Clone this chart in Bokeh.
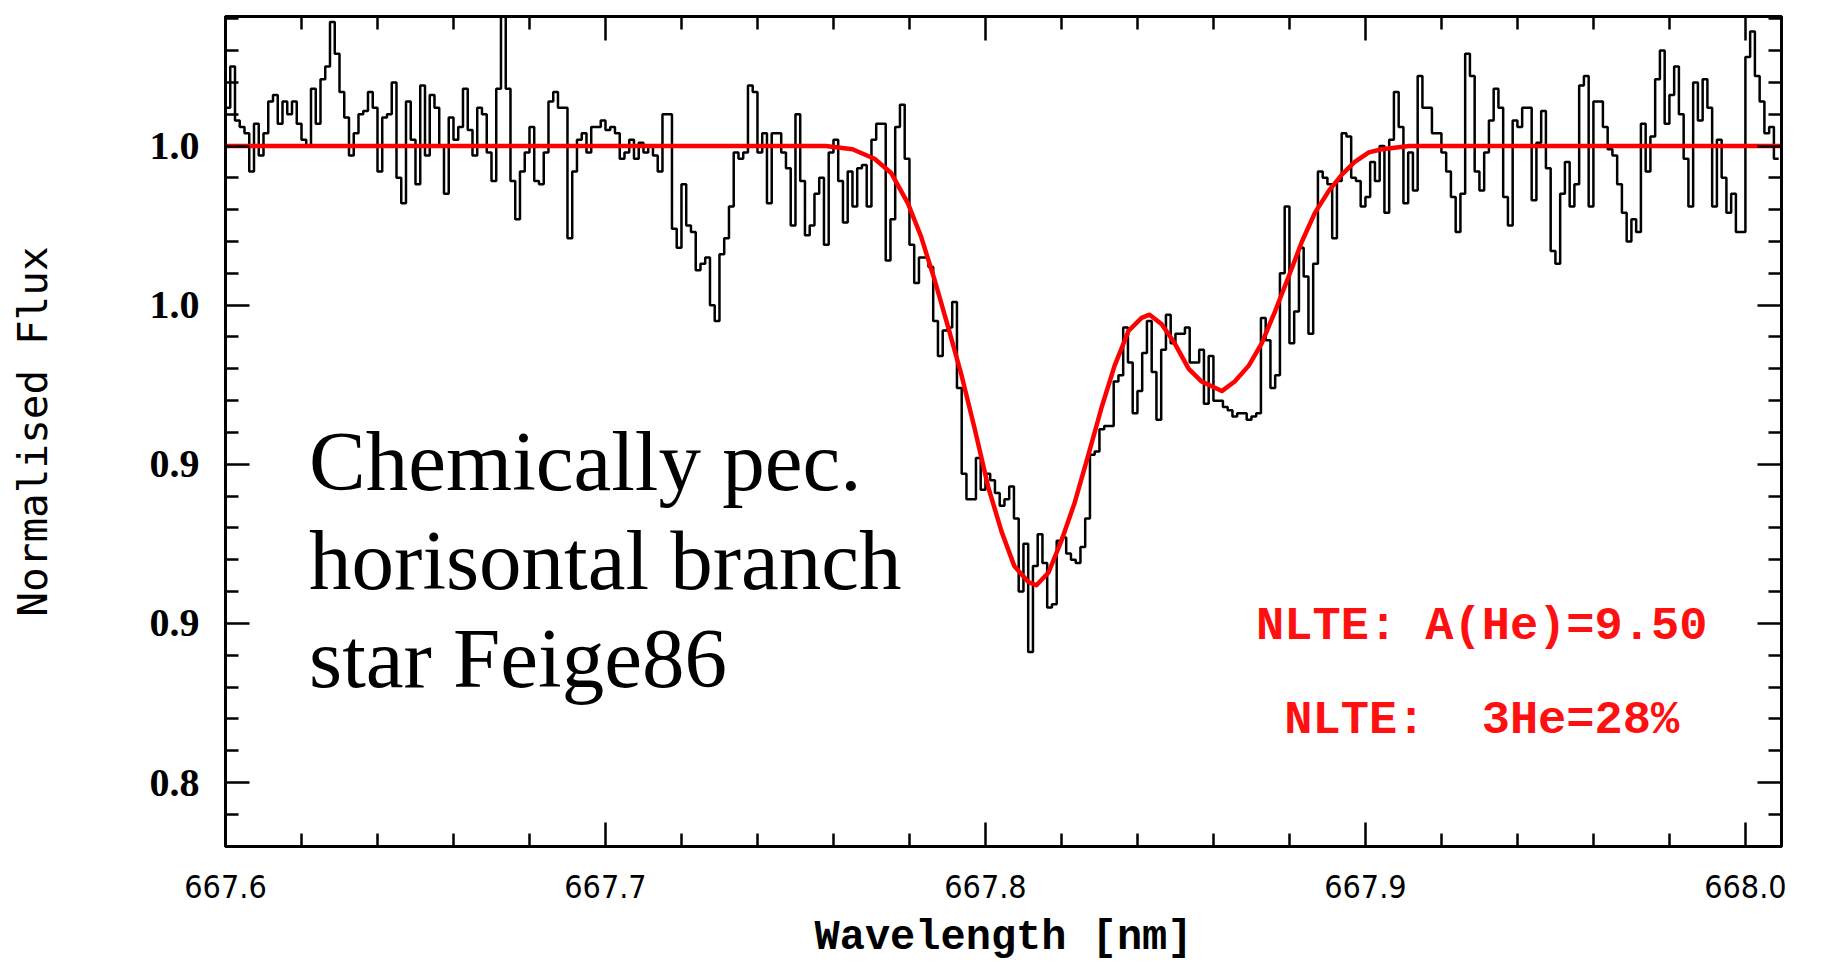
from bokeh.plotting import figure
from bokeh.models import LinearAxis, FixedTicker, Range1d, Label, ColumnDataSource
from bokeh.embed import file_html
from bokeh.resources import INLINE

# ---------------- data ----------------
wavelength = [
    667.600, 667.60125, 667.6025, 667.60375, 667.605, 667.60625, 667.6075, 667.60875,
    667.610, 667.61125, 667.6125, 667.61375, 667.615, 667.61625, 667.6175, 667.61875,
    667.620, 667.62125, 667.6225, 667.62375, 667.625, 667.62625, 667.6275, 667.62875,
    667.630, 667.63125, 667.6325, 667.63375, 667.635, 667.63625, 667.6375, 667.63875,
    667.640, 667.64125, 667.6425, 667.64375, 667.645, 667.64625, 667.6475, 667.64875,
    667.650, 667.65125, 667.6525, 667.65375, 667.655, 667.65625, 667.6575, 667.65875,
    667.660, 667.66125, 667.6625, 667.66375, 667.665, 667.66625, 667.6675, 667.66875,
    667.670, 667.67125, 667.6725, 667.67375, 667.675, 667.67625, 667.6775, 667.67875,
    667.680, 667.68125, 667.6825, 667.68375, 667.685, 667.68625, 667.6875, 667.68875,
    667.690, 667.69125, 667.6925, 667.69375, 667.695, 667.69625, 667.6975, 667.69875,
    667.700, 667.70125, 667.7025, 667.70375, 667.705, 667.70625, 667.7075, 667.70875,
    667.710, 667.71125, 667.7125, 667.71375, 667.715, 667.71625, 667.7175, 667.71875,
    667.720, 667.72125, 667.7225, 667.72375, 667.725, 667.72625, 667.7275, 667.72875,
    667.730, 667.73125, 667.7325, 667.73375, 667.735, 667.73625, 667.7375, 667.73875,
    667.740, 667.74125, 667.7425, 667.74375, 667.745, 667.74625, 667.7475, 667.74875,
    667.750, 667.75125, 667.7525, 667.75375, 667.755, 667.75625, 667.7575, 667.75875,
    667.760, 667.76125, 667.7625, 667.76375, 667.765, 667.76625, 667.7675, 667.76875,
    667.770, 667.77125, 667.7725, 667.77375, 667.775, 667.77625, 667.7775, 667.77875,
    667.780, 667.78125, 667.7825, 667.78375, 667.785, 667.78625, 667.7875, 667.78875,
    667.790, 667.79125, 667.7925, 667.79375, 667.795, 667.79625, 667.7975, 667.79875,
    667.800, 667.80125, 667.8025, 667.80375, 667.805, 667.80625, 667.8075, 667.80875,
    667.810, 667.81125, 667.8125, 667.81375, 667.815, 667.81625, 667.8175, 667.81875,
    667.820, 667.82125, 667.8225, 667.82375, 667.825, 667.82625, 667.8275, 667.82875,
    667.830, 667.83125, 667.8325, 667.83375, 667.835, 667.83625, 667.8375, 667.83875,
    667.840, 667.84125, 667.8425, 667.84375, 667.845, 667.84625, 667.8475, 667.84875,
    667.850, 667.85125, 667.8525, 667.85375, 667.855, 667.85625, 667.8575, 667.85875,
    667.860, 667.86125, 667.8625, 667.86375, 667.865, 667.86625, 667.8675, 667.86875,
    667.870, 667.87125, 667.8725, 667.87375, 667.875, 667.87625, 667.8775, 667.87875,
    667.880, 667.88125, 667.8825, 667.88375, 667.885, 667.88625, 667.8875, 667.88875,
    667.890, 667.89125, 667.8925, 667.89375, 667.895, 667.89625, 667.8975, 667.89875,
    667.900, 667.90125, 667.9025, 667.90375, 667.905, 667.90625, 667.9075, 667.90875,
    667.910, 667.91125, 667.9125, 667.91375, 667.915, 667.91625, 667.9175, 667.91875,
    667.920, 667.92125, 667.9225, 667.92375, 667.925, 667.92625, 667.9275, 667.92875,
    667.930, 667.93125, 667.9325, 667.93375, 667.935, 667.93625, 667.9375, 667.93875,
    667.940, 667.94125, 667.9425, 667.94375, 667.945, 667.94625, 667.9475, 667.94875,
    667.950, 667.95125, 667.9525, 667.95375, 667.955, 667.95625, 667.9575, 667.95875,
    667.960, 667.96125, 667.9625, 667.96375, 667.965, 667.96625, 667.9675, 667.96875,
    667.970, 667.97125, 667.9725, 667.97375, 667.975, 667.97625, 667.9775, 667.97875,
    667.980, 667.98125, 667.9825, 667.98375, 667.985, 667.98625, 667.9875, 667.98875,
    667.990, 667.99125, 667.9925, 667.99375, 667.995, 667.99625, 667.9975, 667.99875,
    668.000, 668.00125, 668.0025, 668.00375, 668.005, 668.00625, 668.0075, 668.00875,
]

flux = [
    1.012, 1.025, 1.008, 1.006, 1.004, 0.992, 1.007, 0.997,
    1.004, 1.014, 1.016, 1.007, 1.014, 1.010, 1.014, 1.007,
    1.002, 1.000, 1.018, 1.007, 1.021, 1.025, 1.039, 1.029,
    1.017, 1.009, 0.997, 1.004, 1.010, 1.011, 1.017, 1.012,
    0.992, 1.009, 1.010, 1.020, 0.990, 0.982, 1.014, 1.002,
    0.988, 1.019, 0.997, 1.016, 1.012, 1.000, 0.985, 1.009,
    1.002, 1.006, 1.018, 1.005, 0.997, 1.012, 1.010, 0.998,
    0.989, 1.018, 1.041, 1.018, 0.989, 0.977, 0.992, 0.998,
    1.006, 0.989, 0.988, 0.998, 1.014, 1.017, 1.012, 1.012,
    0.971, 0.992, 1.002, 1.004, 0.998, 1.006, 1.006, 1.008,
    1.005, 1.006, 1.004, 0.996, 0.998, 1.002, 0.996, 1.001,
    0.998, 1.000, 0.997, 0.992, 1.010, 1.010, 0.974, 0.968,
    0.988, 0.975, 0.973, 0.961, 0.963, 0.965, 0.950, 0.945,
    0.966, 0.971, 0.981, 0.998, 0.996, 0.998, 1.019, 1.017,
    0.998, 1.004, 0.982, 1.004, 1.004, 0.998, 0.993, 0.975,
    1.010, 0.989, 0.972, 0.975, 0.985, 0.990, 0.969, 0.998,
    1.002, 0.989, 0.976, 0.992, 0.981, 0.993, 0.994, 0.981,
    1.002, 1.007, 1.007, 0.964, 0.977, 1.006, 1.013, 0.996,
    0.969, 0.957, 0.965, 0.965, 0.962, 0.945, 0.934, 0.942,
    0.943, 0.951, 0.924, 0.897, 0.889, 0.889, 0.902, 0.892,
    0.897, 0.895, 0.891, 0.887, 0.889, 0.893, 0.883, 0.860,
    0.875, 0.841, 0.868, 0.878, 0.869, 0.855, 0.856, 0.876,
    0.877, 0.872, 0.870, 0.869, 0.874, 0.883, 0.903, 0.904,
    0.911, 0.912, 0.912, 0.926, 0.928, 0.943, 0.932, 0.916,
    0.923, 0.935, 0.945, 0.929, 0.914, 0.936, 0.947, 0.938,
    0.941, 0.941, 0.943, 0.932, 0.932, 0.936, 0.919, 0.934,
    0.920, 0.920, 0.918, 0.917, 0.915, 0.916, 0.916, 0.914,
    0.915, 0.916, 0.946, 0.939, 0.924, 0.928, 0.960, 0.981,
    0.938, 0.948, 0.968, 0.959, 0.941, 0.963, 0.992, 0.990,
    0.988, 0.971, 0.989, 1.004, 1.003, 0.990, 0.989, 0.981,
    0.984, 0.995, 0.989, 1.000, 0.979, 1.002, 1.017, 1.006,
    0.982, 0.998, 0.986, 1.022, 1.012, 1.012, 1.004, 1.004,
    0.998, 0.992, 0.984, 0.973, 0.985, 1.029, 1.022, 0.992,
    0.986, 0.998, 1.008, 1.018, 1.012, 0.984, 0.975, 1.008,
    1.006, 1.012, 1.012, 0.983, 1.001, 1.011, 0.993, 0.967,
    0.963, 0.985, 0.995, 0.981, 0.988, 1.019, 1.022, 0.981,
    1.014, 1.014, 1.006, 0.999, 0.997, 0.988, 0.979, 0.970,
    0.977, 0.973, 1.007, 0.992, 1.003, 1.021, 1.030, 1.007,
    1.016, 1.025, 1.010, 0.996, 0.981, 1.020, 1.008, 1.021,
    1.012, 0.981, 1.002, 0.990, 0.979, 0.985, 0.973, 0.973,
    1.028, 1.036, 1.022, 1.014, 1.004, 1.006, 0.996, 0.996,
]

model_wavelength = [
    667.600, 667.740, 667.758, 667.765, 667.7708, 667.7752, 667.7796, 667.7831,
    667.7866, 667.7902, 667.7937, 667.7972, 667.8007, 667.8042, 667.8076, 667.8113,
    667.8134, 667.8166, 667.8200, 667.8235, 667.8271, 667.8306, 667.8340, 667.8377,
    667.8411, 667.8432, 667.8464, 667.8498, 667.8535, 667.8569, 667.8622, 667.8656,
    667.8693, 667.8727, 667.8762, 667.8798, 667.8833, 667.8867, 667.8904, 667.8938,
    667.8972, 667.9009, 667.9043, 667.9115, 668.0095,
]
model_flux = [
    1.000, 1.000, 1.000, 0.999, 0.996, 0.9915, 0.982, 0.9714,
    0.958, 0.943, 0.928, 0.911, 0.893, 0.879, 0.868, 0.863,
    0.862, 0.866, 0.876, 0.888, 0.903, 0.918, 0.931, 0.942,
    0.946, 0.947, 0.944, 0.938, 0.930, 0.926, 0.923, 0.926,
    0.931, 0.938, 0.948, 0.959, 0.970, 0.979, 0.986, 0.991,
    0.995, 0.998, 0.999, 1.000, 1.000,
]

x_major_ticks = [667.6, 667.7, 667.8, 667.9, 668.0]
x_tick_labels = ["667.6", "667.7", "667.8", "667.9", "668.0"]
x_minor_ticks = [667.62, 667.64, 667.66, 667.68, 667.72, 667.74, 667.76, 667.78,
                 667.82, 667.84, 667.86, 667.88, 667.92, 667.94, 667.96, 667.98]
y_major_ticks = [0.80, 0.85, 0.90, 0.95, 1.00]
y_tick_labels = ["0.8", "0.9", "0.9", "1.0", "1.0"]
y_minor_ticks = [0.79, 0.81, 0.82, 0.83, 0.84, 0.86, 0.87, 0.88, 0.89, 0.91, 0.92,
                 0.93, 0.94, 0.96, 0.97, 0.98, 0.99, 1.01, 1.02, 1.03, 1.04]

x_title = "Wavelength [nm]"
y_title = "Normalised Flux"
star_text = ["Chemically pec.", "horisontal branch", "star Feige86"]
nlte_text = ["NLTE: A(He)=9.50", "NLTE:\u00a0 3He=28%"]

# ---------------- figure ----------------
p = figure(width=1825, height=964,
           x_range=Range1d(667.6, 668.0095), y_range=Range1d(0.7799, 1.0407),
           output_backend="svg", toolbar_location=None,
           min_border_left=225, min_border_right=44, min_border_top=16, min_border_bottom=118)
p.background_fill_color = "white"
p.border_fill_color = "white"
p.outline_line_color = "black"
p.outline_line_width = 3
p.grid.visible = False

xticker = FixedTicker(ticks=x_major_ticks, minor_ticks=x_minor_ticks)
yticker = FixedTicker(ticks=y_major_ticks, minor_ticks=y_minor_ticks)


def style_axis(ax):
    ax.axis_line_width = 3
    ax.axis_line_color = "black"
    ax.major_tick_in = 24
    ax.major_tick_out = 0
    ax.minor_tick_in = 13
    ax.minor_tick_out = 0
    ax.major_tick_line_width = 2.5
    ax.minor_tick_line_width = 2.5
    ax.major_tick_line_color = "black"
    ax.minor_tick_line_color = "black"


def hide_labels(ax):
    ax.major_label_text_color = None
    ax.major_label_text_font_size = "8px"
    ax.major_label_standoff = 0


xb = p.xaxis[0]
xb.ticker = xticker
style_axis(xb)
xb.major_label_overrides = dict(zip(x_major_ticks, x_tick_labels))
xb.major_label_text_font = "'DejaVu Sans Condensed', 'Liberation Sans', sans-serif"
xb.major_label_text_font_size = "32px"
xb.major_label_text_color = "black"
xb.major_label_standoff = 28
xb.axis_label = x_title
xb.axis_label_text_font = "Liberation Mono"
xb.axis_label_text_font_style = "bold"
xb.axis_label_text_font_size = "42px"
xb.axis_label_text_color = "black"
xb.axis_label_standoff = 13

yl = p.yaxis[0]
yl.ticker = yticker
style_axis(yl)
yl.major_label_overrides = dict(zip(y_major_ticks, y_tick_labels))
yl.major_label_text_font = "Liberation Serif"
yl.major_label_text_font_style = "bold"
yl.major_label_text_font_size = "40px"
yl.major_label_text_color = "black"
yl.major_label_standoff = 26
yl.axis_label = y_title
yl.axis_label_text_font = "DejaVu Sans Mono"
yl.axis_label_text_font_style = "normal"
yl.axis_label_text_font_size = "41px"
yl.axis_label_text_color = "black"
yl.axis_label_standoff = 90

xt = LinearAxis(ticker=xticker)
style_axis(xt)
hide_labels(xt)
p.add_layout(xt, "above")

yr = LinearAxis(ticker=yticker)
style_axis(yr)
hide_labels(yr)
p.add_layout(yr, "right")

src = ColumnDataSource(data=dict(wl=wavelength, flux=flux))
p.step(x="wl", y="flux", source=src, mode="after", line_color="black", line_width=2.5)
p.line(model_wavelength, model_flux, line_color="#ff0000", line_width=4.5, line_join="round")

star_y = [0.901, 0.870, 0.839]
for t, yy in zip(star_text, star_y):
    p.add_layout(Label(x=667.622, y=yy, text=t, text_font="Liberation Serif",
                       text_font_size="85px", text_color="black",
                       text_baseline="alphabetic", text_align="left"))

nlte_y = [0.849, 0.8195]
for t, yy in zip(nlte_text, nlte_y):
    p.add_layout(Label(x=667.9306, y=yy, text=t, text_font="Liberation Mono",
                       text_font_style="bold", text_font_size="47px", text_color="#ff1010",
                       text_baseline="alphabetic", text_align="center"))

open("out.html", "w").write(file_html(p, INLINE))
